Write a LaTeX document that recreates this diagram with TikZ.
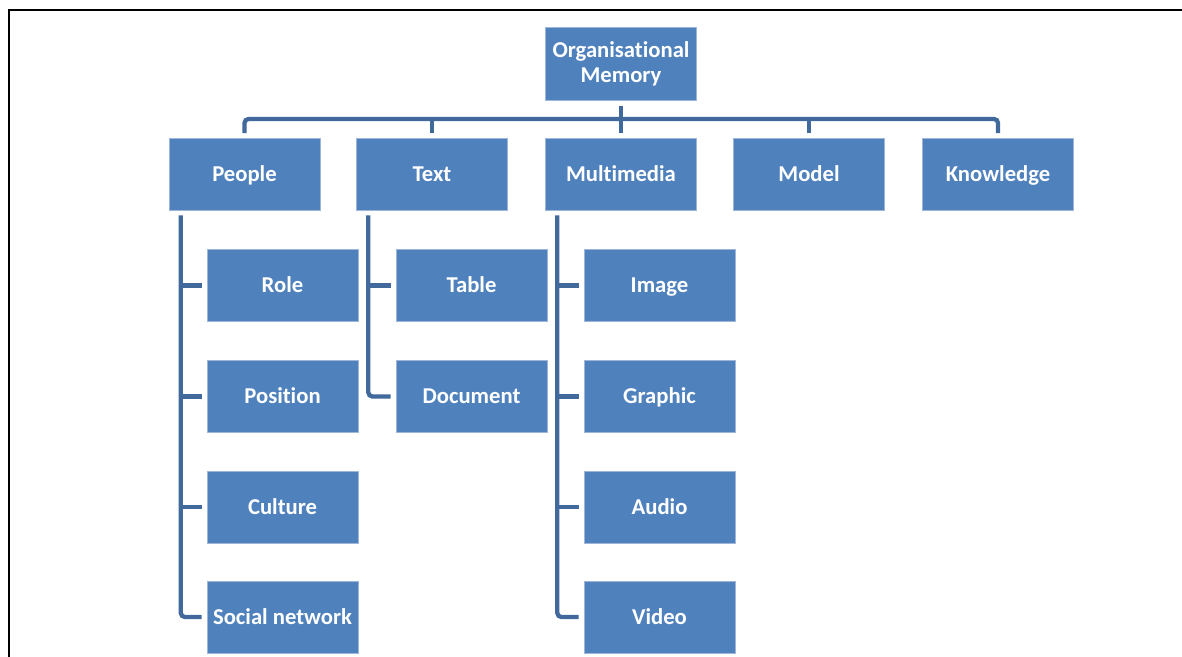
\documentclass[tikz,border=0pt]{standalone}
\usepackage{fontspec}
\setmainfont{Carlito}[Ligatures={NoCommon}]
\definecolor{boxblue}{HTML}{4F81BD}
\definecolor{lineblue}{HTML}{41699C}
\definecolor{edgeblue}{HTML}{9DB6DA}
\begin{document}
\begin{tikzpicture}[x=0.75pt,y=-0.75pt,
  boxbase/.style={rectangle, fill=boxblue, draw=edgeblue, line width=0.5pt,
    minimum width=113pt, minimum height=54pt, inner sep=0pt, text=white,
    font=\fontsize{17}{19}\selectfont\bfseries, align=center},
  box/.style={boxbase, text height=13pt, text depth=2.5pt},
  conn/.style={draw=lineblue, line width=3.2pt, rounded corners=3pt},
  frame/.style={draw=black, line width=1.6pt}]
\useasboundingbox (0,0) rectangle (1182,657);
\draw[frame] (9,657) -- (9,10) -- (1182,10);

\node[boxbase, minimum height=55pt] (root) at (621,63.5) {Organisational\\Memory};

\node[box] (people) at (244.5,174) {People};
\node[box] (text) at (432,174) {Text};
\node[box] (multi) at (621,174) {Multimedia};
\node[box] (model) at (809,174) {Model};
\node[box] (know) at (998,174) {Knowledge};

\node[box] (role) at (282.5,285.5) {Role};
\node[box] (position) at (282.5,396.5) {Position};
\node[box] (culture) at (282.5,507) {Culture};
\node[box] (social) at (282.5,617) {Social network};

\node[box] (table) at (471.5,285.5) {Table};
\node[box] (document) at (471.5,396.5) {Document};

\node[box] (image) at (659.5,285.5) {Image};
\node[box] (graphic) at (659.5,396.5) {Graphic};
\node[box] (audio) at (659.5,507) {Audio};
\node[box] (video) at (659.5,617) {Video};

\coordinate (bus) at ([yshift=14pt]people.north);
\draw[conn, shorten <=3.5pt, shorten >=3.5pt] (people.north) -- (people.north |- bus) -- (know.north |- bus) -- (know.north);
\draw[conn, shorten <=4pt] (root.south) -- (root.south |- bus);
\foreach \n in {text,multi,model}
  \draw[conn, shorten <=3.5pt] (\n.north) -- (\n.north |- bus);

\coordinate (pv) at ([xshift=9pt]people.south west);
\draw[conn, shorten <=3.75pt, shorten >=4pt] (pv) |- (social.west);
\foreach \n in {role,position,culture}
  \draw[conn, shorten >=4pt] (pv |- \n.west) -- (\n.west);

\coordinate (tv) at ([xshift=9pt]text.south west);
\draw[conn, shorten <=3.75pt, shorten >=4pt] (tv) |- (document.west);
\draw[conn, shorten >=4pt] (tv |- table.west) -- (table.west);

\coordinate (mv) at ([xshift=9pt]multi.south west);
\draw[conn, shorten <=3.75pt, shorten >=4pt] (mv) |- (video.west);
\foreach \n in {image,graphic,audio}
  \draw[conn, shorten >=4pt] (mv |- \n.west) -- (\n.west);
\end{tikzpicture}
\end{document}
